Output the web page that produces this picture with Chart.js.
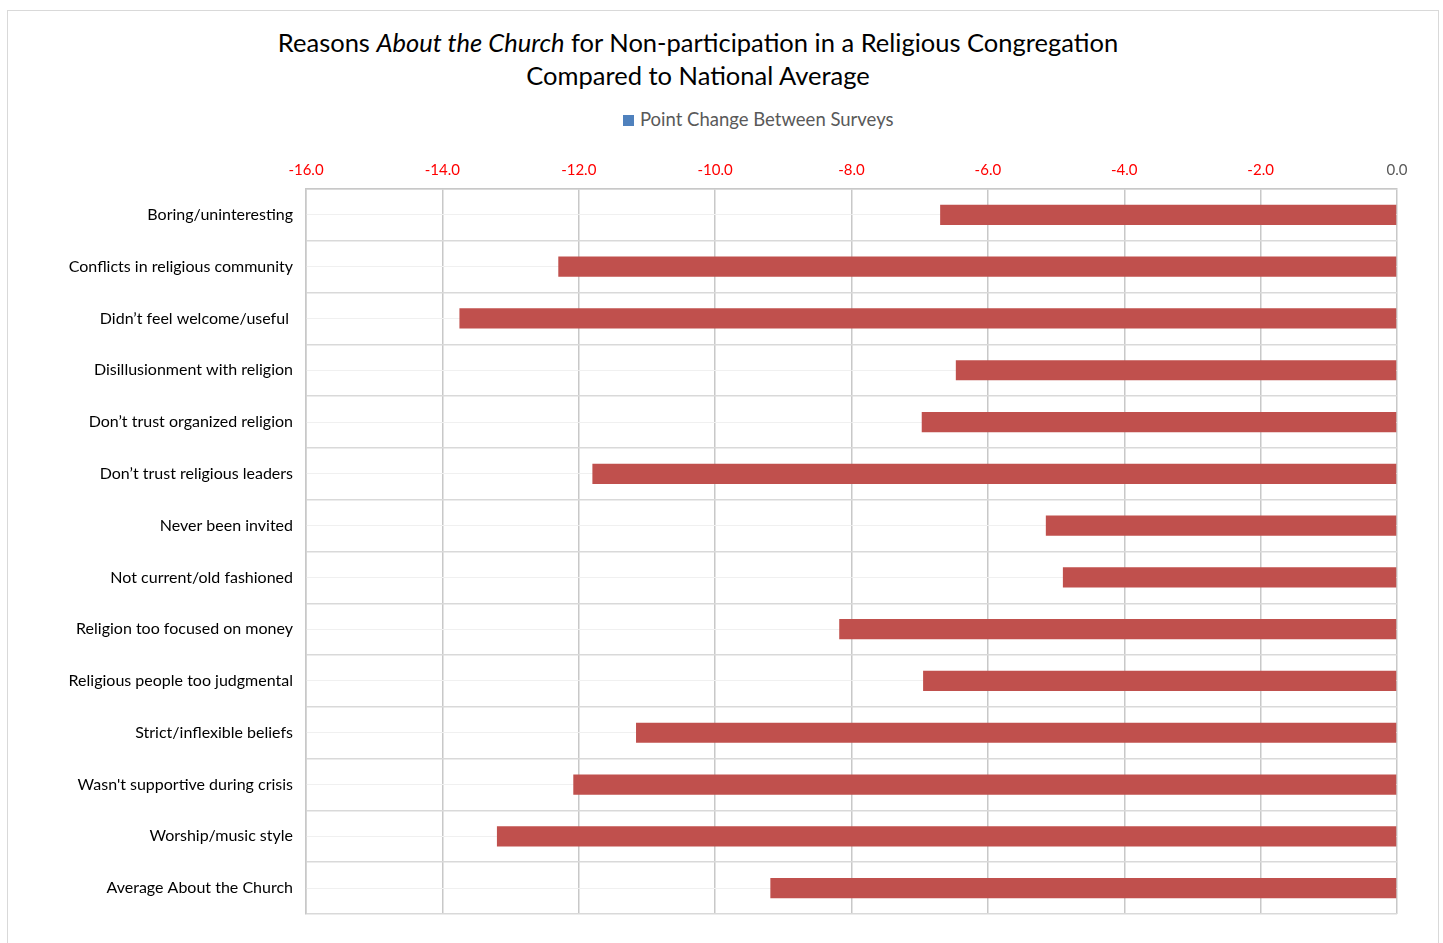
<!DOCTYPE html>
<html lang="en">
<head>
    <meta charset="UTF-8" />
    <title>Reasons About the Church</title>
    <style>
        body {
            margin: 0;
            background: #fff;
            font-family: Lato, "Open Sans", sans-serif;
        }
        .frame {
            position: absolute;
            left: 7px;
            top: 10px;
            width: 1432px;
            height: 940px;
            border: 1px solid #d9d9d9;
            box-sizing: border-box;
        }
        .title {
            position: absolute;
            left: 0;
            width: 1396px;
            top: 26px;
            text-align: center;
            font-size: 25.5px;
            line-height: 33px;
            color: #000;
        }
        .legend {
            position: absolute;
            left: 623px;
            top: 108px;
            font-size: 18.5px;
            color: #595959;
        }
        .legend span {
            display: inline-block;
            width: 11px;
            height: 11px;
            background: #4f81bd;
            margin-right: 6px;
        }
        #chart {
            position: absolute;
            left: 8px;
            top: 140px;
        }
    </style>
</head>
<body>
    <div class="frame"></div>
    <div class="title">Reasons <i>About the Church</i> for Non-participation in a Religious Congregation<br>Compared to National Average</div>
    <div class="legend"><span></span>Point Change Between Surveys</div>
    <canvas id="chart" width="1430" height="803"></canvas>

    <script src="https://cdn.jsdelivr.net/npm/chart.js"></script>
    <script>
        const categories = [
            'Boring/uninteresting',
            'Conflicts in religious community',
            'Didn\u2019t feel welcome/useful ',
            'Disillusionment with religion',
            'Don\u2019t trust organized religion',
            'Don\u2019t trust religious leaders',
            'Never been invited',
            'Not current/old fashioned',
            'Religion too focused on money',
            'Religious people too judgmental',
            'Strict/inflexible beliefs',
            'Wasn\'t supportive during crisis',
            'Worship/music style',
            'Average About the Church'
        ];
        const pointChange = [-6.7, -12.3, -13.75, -6.47, -6.97, -11.8, -5.15, -4.9, -8.18, -6.95, -11.16, -12.08, -13.2, -9.19];
        const seriesName = 'Point Change Between Surveys';
        const axisMin = -16;
        const axisMax = 0;
        const axisStep = 2;

        const ctx = document.getElementById('chart').getContext('2d');
        new Chart(ctx, {
            type: 'bar',
            data: {
                labels: categories,
                datasets: [{
                    label: seriesName,
                    data: pointChange,
                    backgroundColor: '#c0504d',
                    borderWidth: 0,
                    categoryPercentage: 0.39,
                    barPercentage: 1.0,
                    yAxisID: 'y'
                }]
            },
            options: {
                indexAxis: 'y',
                responsive: false,
                animation: false,
                layout: {
                    padding: { left: 0, right: 41, top: 0, bottom: 29 }
                },
                plugins: {
                    legend: { display: false },
                    title: { display: false },
                    tooltip: { enabled: false }
                },
                scales: {
                    x: {
                        position: 'top',
                        min: axisMin,
                        max: axisMax,
                        ticks: {
                            stepSize: axisStep,
                            padding: 10,
                            font: { family: 'Lato', size: 15 },
                            color: c => c.tick && c.tick.value === 0 ? '#595959' : '#ff0000',
                            callback: v => v.toFixed(1)
                        },
                        grid: {
                            color: '#c8c8c8',
                            lineWidth: 1.5,
                            drawTicks: false
                        },
                        border: { color: '#c8c8c8', width: 1.5 },
                        afterFit: s => { s.height = 49; }
                    },
                    y: {
                        ticks: {
                            padding: 13,
                            font: { family: 'Lato', size: 16 },
                            color: '#000'
                        },
                        grid: {
                            color: '#d9d9d9',
                            lineWidth: 1.5,
                            drawTicks: false
                        },
                        border: { color: '#c8c8c8', width: 1.5 },
                        afterFit: s => { s.width = 298; }
                    },
                    yMid: {
                        type: 'category',
                        position: 'left',
                        offset: true,
                        ticks: { display: false },
                        grid: {
                            offset: false,
                            color: '#f0f0f0',
                            lineWidth: 1,
                            drawTicks: false
                        },
                        border: { display: false },
                        afterFit: s => { s.width = 0; }
                    }
                }
            }
        });
    </script>
</body>
</html>
